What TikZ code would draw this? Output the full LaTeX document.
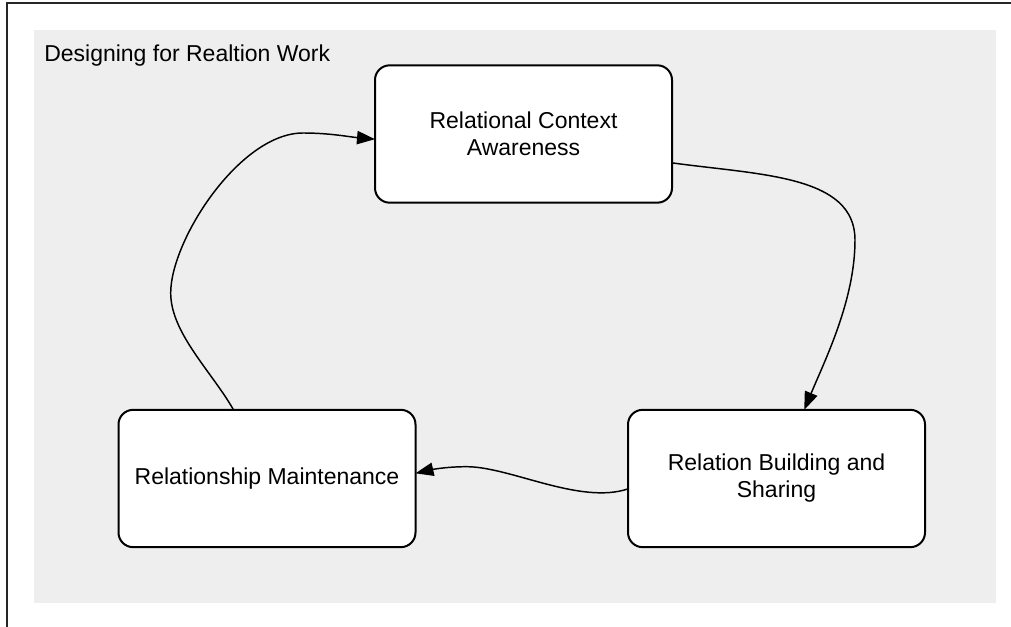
\documentclass[tikz,border=0pt]{standalone}
\usepackage{fontspec}
\setmainfont{Liberation Sans}
\usetikzlibrary{arrows.meta}
\definecolor{panelgray}{HTML}{EEEEEE}
\definecolor{framegray}{HTML}{262626}
\begin{document}
\begin{tikzpicture}[x=0.75pt,y=-0.75pt,
  txt/.style={font=\fontsize{17.25pt}{20.25pt}\selectfont},
  stage/.style={txt,draw=black,fill=white,line width=1.5pt,rounded corners=11pt,
    minimum width=222.75pt,minimum height=103pt,inner sep=0pt,outer sep=0pt,align=center},
  conn/.style={draw=black,line width=1.1pt,-{Triangle[length=13.5pt,width=10pt]}}]
  \useasboundingbox (0,0) rectangle (1011,627);
  % page frame and panel
  \draw[framegray,line width=1.5pt] (7,627) -- (7,3.5) -- (1011,3.5);
  \fill[panelgray] (34,30) rectangle (996,603);
  \node[txt,anchor=base west,inner sep=0pt] (title) at (44,62) {Designing for Realtion Work};
  % stages
  \node[stage] (rca) at (523.5,134) {Relational Context\\Awareness};
  \node[stage] (rbs) at (776.5,478.5) {Relation Building and\\Sharing};
  \node[stage] (rm) at (267,478.5) {Relationship Maintenance};
  % cycle connectors
  \draw[conn] (rm.116.6) .. controls (212,372) and (170.7,333) .. (170.7,293)
    .. controls (170.7,240) and (240,133) .. (303,133)
    .. controls (330,133) and (350,137) .. (rca.182.3);
  \draw[conn] (rca.-11.2) .. controls (760,175) and (855,175) .. (855,240)
    .. controls (855,300) and (825,360) .. (rbs.68.1);
  \draw[conn] (rbs.184.7) .. controls (580,505) and (510,466.7) .. (466.7,466.7)
    .. controls (445,466.7) and (430,470) .. (rm.2.9);
\end{tikzpicture}
\end{document}
